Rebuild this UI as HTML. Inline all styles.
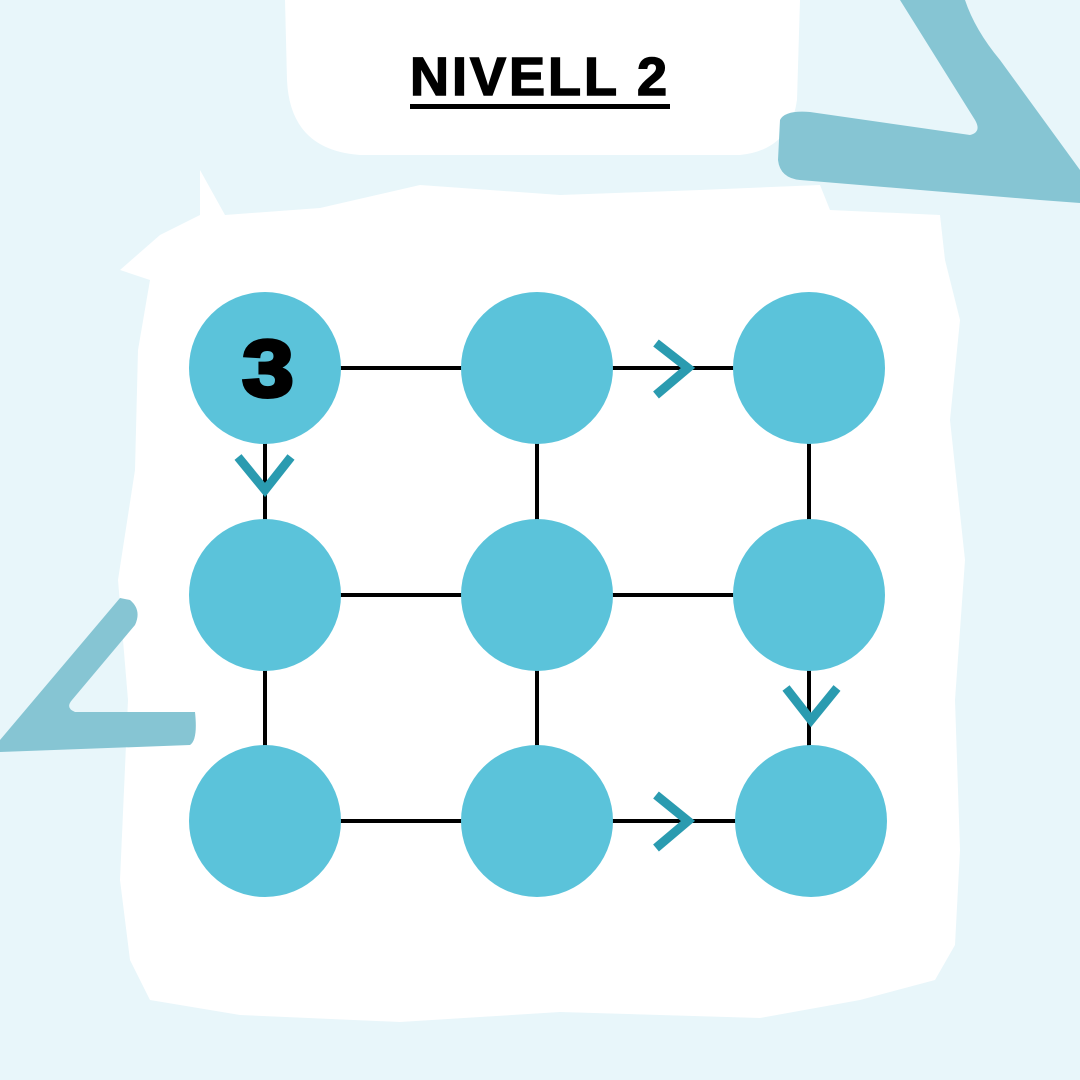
<!DOCTYPE html>
<html><head><meta charset="utf-8"><style>
html,body{margin:0;padding:0;}
body{width:1080px;height:1080px;background:#e8f6fa;position:relative;overflow:hidden;font-family:"Liberation Sans",sans-serif;}
.t{position:absolute;left:0;width:1080px;top:46px;text-align:center;font-weight:900;font-size:54px;letter-spacing:3px;}
.t span{border-bottom:5px solid #000;line-height:54px;display:inline-block;-webkit-text-stroke:1.5px #000;}
</style></head><body>
<svg width="1080" height="1080" style="position:absolute;left:0;top:0">
<path d="M285 0 H800 L797 100 Q790 150 740 155 L360 155 Q290 150 287 80 Z" fill="#fff"/>
<path d="M200 170 L225 215 L320 208 L420 185 L560 195 L700 190 L820 185 L830 210 L940 215 L945 260 L960 320 L950 420 L965 560 L955 700 L960 850 L955 945 L935 980 L860 1000 L760 1018 L560 1012 L400 1022 L240 1015 L150 1000 L130 960 L120 880 L128 700 L118 580 L135 470 L138 350 L150 280 L120 270 L160 235 L200 215 Z" fill="#fff"/>
<path d="M900 0 L965 0 Q975 30 1000 60 L1080 170 L1080 203 L1040 200 L800 180 Q780 178 778 160 L780 120 Q785 110 810 112 L970 135 Q982 132 975 120 Z" fill="#86c5d3"/>
<path d="M120 598 L0 740 L0 752 L190 745 Q198 740 195 712 L75 712 Q65 708 72 700 L135 625 Q142 610 130 600 Z" fill="#86c5d3"/>
<g stroke="#000" stroke-width="4">
<line x1="265" y1="368" x2="809" y2="368"/><line x1="265" y1="595" x2="809" y2="595"/><line x1="265" y1="821" x2="809" y2="821"/>
<line x1="265" y1="368" x2="265" y2="821"/><line x1="537" y1="368" x2="537" y2="821"/><line x1="809" y1="368" x2="809" y2="821"/>
</g>
<g fill="#5bc3da">
<circle cx="265" cy="368" r="76"/><circle cx="537" cy="368" r="76"/><circle cx="809" cy="368" r="76"/>
<circle cx="265" cy="595" r="76"/><circle cx="537" cy="595" r="76"/><circle cx="809" cy="595" r="76"/>
<circle cx="265" cy="821" r="76"/><circle cx="537" cy="821" r="76"/><circle cx="811" cy="821" r="76"/>
</g>
<g fill="none" stroke="#2a9bb0" stroke-width="9" stroke-linejoin="miter" stroke-linecap="butt">
<polyline points="656,343 688,368 656,395"/>
<polyline points="656,795 688,821 656,848"/>
<polyline points="238,457 265,490 291,457"/>
<polyline points="786,688 811,720 837,688"/>
</g>
<text x="268" y="396" text-anchor="middle" font-family="Liberation Sans" font-weight="900" font-size="80" stroke="#000" stroke-width="4" transform="translate(268 0) scale(1.15 1) translate(-268 0)">3</text>
</svg>
<div class="t"><span>NIVELL 2</span></div>
</body></html>
